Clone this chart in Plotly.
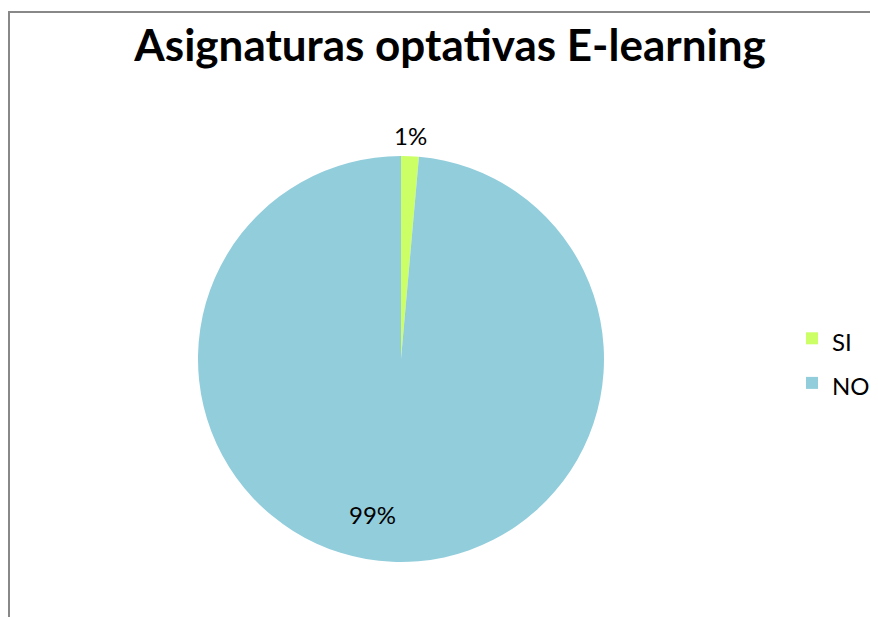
import math
import plotly.graph_objects as go

# datos
categorias = ["SI", "NO"]
valores = [1, 70]
etiquetas = ["1%", "99%"]
colores = ["#CCFF66", "#92CDDC"]

# la página tiene 8px de margen en el body
W, H = 870, 609
OFF = 8


def px(x):
    return (x - OFF) / W


def py(y):
    return 1 - (y - OFF) / H


# geometría del pastel (pixeles de la página)
cx, cy, R = 401, 359, 203

fig = go.Figure()

fig.add_trace(go.Pie(
    labels=[f'<span style="font-size:24px">{c}</span>' for c in categorias],
    values=valores,
    textinfo="none",
    marker=dict(colors=colores, line=dict(width=0)),
    sort=False,
    direction="clockwise",
    rotation=0,
    domain=dict(x=[px(cx - R), px(cx + R)], y=[py(cy + R), py(cy - R)]),
    showlegend=True,
))

# etiquetas de datos a la manera de Excel
total = sum(valores)
acum = 0
for v, txt in zip(valores, etiquetas):
    medio = (acum + v / 2) / total * 2 * math.pi
    acum += v
    if v / total < 0.05:
        r, ajuste = R + 21, 0
    else:
        r, ajuste = R * 0.78, math.radians(8)
    ang = medio + ajuste
    fig.add_annotation(x=px(cx + r * math.sin(ang)), y=py(cy - r * math.cos(ang)),
                       xref="paper", yref="paper", text=txt, showarrow=False,
                       xanchor="center", yanchor="middle",
                       font=dict(family="Lato", size=24, color="#000000"))

# marco del gráfico
fig.add_shape(type="rect", xref="paper", yref="paper",
              x0=1 / W, x1=1.2, y0=-0.2, y1=1 - 4 / H,
              line=dict(color="#888888", width=2), fillcolor="rgba(0,0,0,0)")

fig.update_layout(
    width=W, height=H,
    margin=dict(l=0, r=0, t=0, b=0),
    paper_bgcolor="white",
    plot_bgcolor="white",
    title=dict(text="<b>Asignaturas optativas E-learning</b>",
               x=px(450), xanchor="center", y=py(46), yanchor="middle",
               font=dict(family="Lato", size=44, color="#000000")),
    legend=dict(x=px(792), xanchor="left", y=py(361), yanchor="middle",
                font=dict(family="Lato", size=32, color="#000000"),
                itemwidth=30),
)

fig.write_html("out.html")
